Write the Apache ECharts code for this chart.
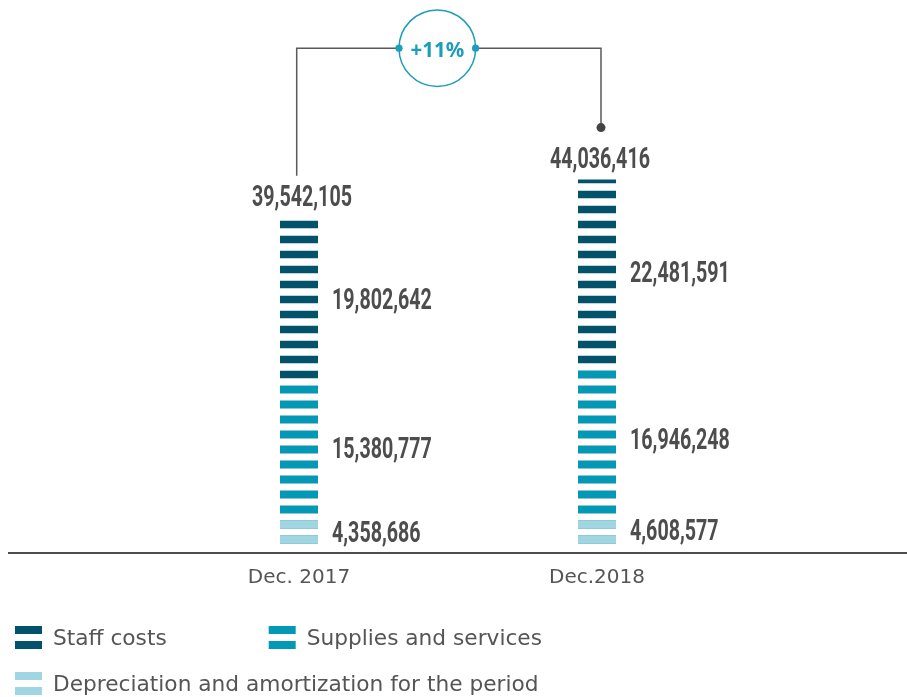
<!DOCTYPE html>
<html>
<head>
<meta charset="utf-8">
<title>Operating costs</title>
<script src="https://cdn.jsdelivr.net/npm/echarts@6/dist/echarts.min.js"></script>
<style>
  html, body { margin: 0; padding: 0; background: #ffffff; }
  #chart { width: 907px; height: 697px; }
</style>
</head>
<body>
<div id="chart"></div>
<script>
// ---- data ----
const CATEGORIES = ['Dec. 2017', 'Dec.2018'];
const SERIES_NAMES = ['Staff costs', 'Supplies and services', 'Depreciation and amortization for the period'];
const STAFF_COSTS = [19802642, 22481591];
const SUPPLIES_SERVICES = [15380777, 16946248];
const DEPRECIATION = [4358686, 4608577];
const TOTALS = [39542105, 44036416];

// ---- styling ----
const COLORS = ['#02526c', '#0199b5', '#9fd6e2'];
const TEAL = '#1b9dbb';
const LABEL_GREY = '#4d4d4d';
const TEXT_GREY = '#555555';
const Y_MAX = 49.6e6;          // axis top; grid is 420px tall -> 28 stripes of 15px
const STRIPE = [38, 7.5];

// stacked levels: each layer is drawn from zero up to its cumulative value
const cumDep = DEPRECIATION.slice();
const cumSupplies = DEPRECIATION.map((d, i) => d + SUPPLIES_SERVICES[i]);
const cumStaff = cumSupplies.map((s, i) => s + STAFF_COSTS[i]);

function stripeSeries(name, data, color, z) {
  return {
    type: 'pictorialBar',
    name: name,
    data: data,
    symbol: 'rect',
    symbolSize: STRIPE,
    symbolRepeat: true,
    symbolClip: true,
    symbolMargin: '3.75!',
    symbolOffset: [0, -5.55],
    symbolBoundingData: Y_MAX,
    itemStyle: { color: color },
    z: z,
    silent: true
  };
}

// value labels: [category, low, high, value, kind] (kind 0 = beside segment, 1 = bar total)
const labelData = [];
CATEGORIES.forEach((c, i) => {
  labelData.push([i, 0, cumDep[i], DEPRECIATION[i], 0]);
  labelData.push([i, cumDep[i], cumSupplies[i], SUPPLIES_SERVICES[i], 0]);
  labelData.push([i, cumSupplies[i], cumStaff[i], STAFF_COSTS[i], 0]);
  labelData.push([i, 0, TOTALS[i], TOTALS[i], 1]);
});

function renderValueLabel(params, api) {
  const cat = api.value(0);
  const lo = api.coord([cat, api.value(1)]);
  const hi = api.coord([cat, api.value(2)]);
  const v = api.value(3);
  const isTotal = api.value(4) === 1;
  return {
    type: 'text',
    x: isTotal ? hi[0] + 3 : lo[0] + 33,
    y: isTotal ? hi[1] - 19.5 : (lo[1] + hi[1]) / 2,
    scaleX: 0.655,
    silent: true,
    style: {
      text: Number(v).toLocaleString('en-US'),
      fill: LABEL_GREY,
      fontFamily: 'Roboto',
      fontWeight: 'bold',
      fontSize: 30,
      align: isTotal ? 'center' : 'left',
      verticalAlign: 'middle'
    }
  };
}

function renderGrowth(params, api) {
  const a = api.coord([0, TOTALS[0]]);
  const b = api.coord([1, TOTALS[1]]);
  const zeroY = api.coord([0, 0])[1];
  const lx = a[0] - 2.3, rx = b[0] + 4;
  const cx = 437.3, cy = 48.2, r = 38.3;
  const pct = Math.round((TOTALS[1] / TOTALS[0] - 1) * 100);
  const line = { stroke: '#5a5a5a', lineWidth: 1.5, fill: null };
  return {
    type: 'group',
    silent: true,
    children: [
      { type: 'line', shape: { x1: 8, y1: zeroY + 0.5, x2: api.getWidth(), y2: zeroY + 0.5 },
        style: { stroke: '#4d4d4d', lineWidth: 2 } },
      { type: 'polyline', shape: { points: [[lx, a[1] - 42], [lx, cy], [cx - r, cy]] }, style: line },
      { type: 'polyline', shape: { points: [[cx + r, cy], [rx, cy], [rx, b[1] - 52]] }, style: line },
      { type: 'circle', shape: { cx: cx, cy: cy, r: r }, style: { stroke: TEAL, lineWidth: 1.5, fill: '#ffffff' } },
      { type: 'circle', shape: { cx: cx - r, cy: cy, r: 3.6 }, style: { fill: TEAL } },
      { type: 'circle', shape: { cx: cx + r, cy: cy, r: 3.6 }, style: { fill: TEAL } },
      { type: 'circle', shape: { cx: rx, cy: b[1] - 52, r: 4.5 }, style: { fill: '#444444' } },
      { type: 'text', x: cx, y: cy + 3.2, style: {
          text: '+' + pct + '%', fill: TEAL, fontFamily: 'Noto Sans', fontWeight: 'bold',
          fontSize: 20.5, align: 'center', verticalAlign: 'middle' } }
    ]
  };
}

// two-stripe legend marker; the path box carries extra room on the right and below
// so the label sits a little right of and lower than the stripes' centre
const LEGEND_ICON = 'path://M0,0H27V8H0Z M0,15H27V23H0Z M0,0 M33,26';
const legendText = { fontFamily: 'DejaVu Sans', fontSize: 21.7, color: TEXT_GREY };

const chart = echarts.init(document.getElementById('chart'), null, { renderer: 'canvas' });
chart.setOption({
  animation: false,
  backgroundColor: '#ffffff',
  grid: { left: 150, right: 161, top: 132.5, bottom: 144.5, containLabel: false },
  legend: [
    {
      left: 15, top: 626, padding: 0, itemWidth: 33, itemHeight: 26, itemGap: 102,
      selectedMode: false, textStyle: legendText,
      data: [
        { name: SERIES_NAMES[0], icon: LEGEND_ICON },
        { name: SERIES_NAMES[1], icon: LEGEND_ICON }
      ]
    },
    {
      left: 15, top: 672, padding: 0, itemWidth: 33, itemHeight: 26,
      selectedMode: false, textStyle: legendText,
      data: [{ name: SERIES_NAMES[2], icon: LEGEND_ICON }]
    }
  ],
  xAxis: {
    type: 'category',
    data: CATEGORIES,
    axisLine: { show: false },
    axisTick: { show: false },
    axisLabel: { margin: 15.5, fontFamily: 'DejaVu Sans', fontSize: 20, color: TEXT_GREY }
  },
  yAxis: { type: 'value', min: 0, max: Y_MAX, show: false },
  series: [
    stripeSeries(SERIES_NAMES[0], cumStaff, COLORS[0], 2),
    stripeSeries(SERIES_NAMES[1], cumSupplies, COLORS[1], 3),
    stripeSeries(SERIES_NAMES[2], cumDep, COLORS[2], 4),
    { type: 'custom', name: 'values', data: labelData, renderItem: renderValueLabel,
      encode: { x: 0, y: [1, 2] }, z: 10, silent: true },
    { type: 'custom', name: 'growth', data: [[0, 0]], renderItem: renderGrowth, z: 11, silent: true }
  ]
});
</script>
</body>
</html>
